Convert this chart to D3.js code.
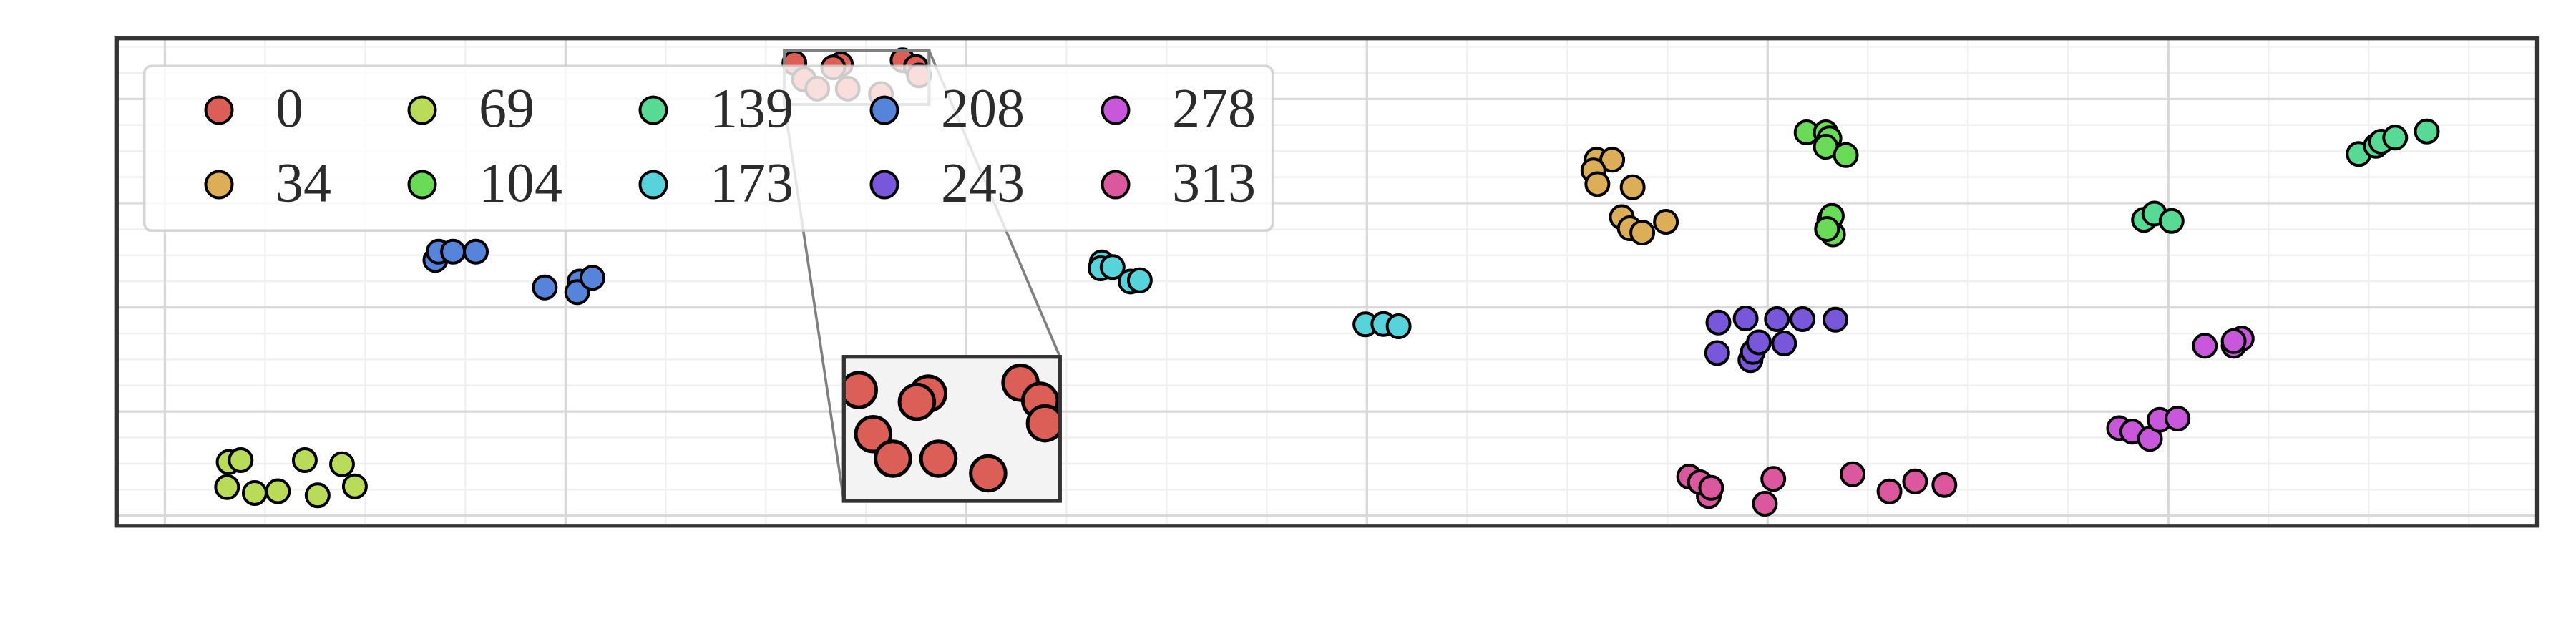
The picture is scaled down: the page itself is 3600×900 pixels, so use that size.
<!DOCTYPE html>
<html>
<head>
<meta charset="utf-8">
<script src="https://cdn.jsdelivr.net/npm/d3@7"></script>
<style>
  html, body { margin: 0; padding: 0; background: #ffffff; }
  svg { display: block; }
</style>
</head>
<body>
<div id="chart"></div>
<script>
// ---------------- DATA ----------------
const categories = ["0", "34", "69", "104", "139", "173", "208", "243", "278", "313"];
const colors = ["#db5f57", "#dbae57", "#b9db57", "#69db57", "#57db94", "#57d3db", "#5784db", "#7957db", "#c957db", "#db579e"];

const pts0 = [[1.572,4.343],[1.688,4.330],[1.669,4.300],[1.596,4.184],[1.629,4.096],[1.705,4.096],[1.788,4.043],[1.842,4.369],[1.875,4.304],[1.883,4.223]];
const pts34 = [[3.574,3.413],[3.613,3.413],[3.566,3.310],[3.576,3.179],[3.664,3.149],[3.637,2.863],[3.657,2.755],[3.688,2.714],[3.747,2.817]];
const pts69 = [[0.160,0.511],[0.190,0.530],[0.350,0.530],[0.443,0.491],[0.156,0.271],[0.225,0.215],[0.283,0.231],[0.382,0.192],[0.475,0.278]];
const pts104 = [[4.098,3.676],[4.146,3.676],[4.155,3.619],[4.146,3.538],[4.196,3.458],[4.164,2.697],[4.155,2.838],[4.161,2.874],[4.149,2.749]];
const pts139 = [[4.940,2.837],[4.966,2.896],[5.009,2.826],[5.476,3.468],[5.519,3.547],[5.532,3.587],[5.567,3.626],[5.646,3.685]];
const pts173 = [[2.339,2.428],[2.336,2.371],[2.366,2.383],[2.411,2.245],[2.434,2.256],[2.997,1.833],[3.042,1.837],[3.080,1.815]];
const pts208 = [[0.676,2.451],[0.684,2.531],[0.720,2.531],[0.777,2.531],[0.949,2.188],[1.036,2.245],[1.030,2.142],[1.068,2.280]];
const pts243 = [[3.878,1.851],[3.946,1.890],[4.024,1.883],[4.088,1.883],[4.170,1.878],[3.875,1.558],[3.958,1.490],[3.964,1.569],[3.979,1.661],[4.042,1.650]];
const pts278 = [[5.092,1.627],[5.164,1.627],[5.184,1.696],[5.164,1.672],[4.878,0.837],[4.911,0.803],[4.955,0.734],[4.979,0.917],[5.024,0.929]];
const pts313 = [[3.805,0.372],[3.854,0.185],[3.832,0.317],[3.860,0.264],[4.015,0.350],[3.994,0.111],[4.213,0.395],[4.305,0.230],[4.369,0.326],[4.442,0.292]];

const seriesPoints = [pts0, pts34, pts69, pts104, pts139, pts173, pts208, pts243, pts278, pts313];

// axis limits and tick values (no labels are shown)
const xDomain = [-0.119, 5.921];
const yDomain = [-0.100, 4.578];
const xMajorTicks = [0, 1, 2, 3, 4, 5];
const yMajorTicks = [0, 1, 2, 3, 4];
const xMinorTicks = [-0.25,0.25,0.5,0.75,1.25,1.5,1.75,2.25,2.5,2.75,3.25,3.5,3.75,4.25,4.5,4.75,5.25,5.5,5.75];
const yMinorTicks = [0.25,0.5,0.75,1.25,1.5,1.75,2.25,2.5,2.75,3.25,3.5,3.75,4.25,4.5];

// zoomed region shown in the inset
const insetXDomain = [1.547, 1.908];
const insetYDomain = [3.944, 4.462];

// ---------------- LAYOUT ----------------
const W = 3600, H = 900;
const plot = { left: 163.3, right: 3545.5, top: 53.7, bottom: 734.8 };
const insetBox = { left: 1179.3, right: 1481.3, top: 498.7, bottom: 700 };

const svg = d3.select("#chart").append("svg")
  .attr("width", W).attr("height", H)
  .attr("viewBox", `0 0 ${W} ${H}`);

svg.append("rect").attr("width", W).attr("height", H).attr("fill", "#ffffff");

const x = d3.scaleLinear().domain(xDomain).range([plot.left, plot.right]);
const y = d3.scaleLinear().domain(yDomain).range([plot.bottom, plot.top]);

const defs = svg.append("defs");
defs.append("clipPath").attr("id", "plotClip").append("rect")
  .attr("x", plot.left).attr("y", plot.top)
  .attr("width", plot.right - plot.left).attr("height", plot.bottom - plot.top);
defs.append("clipPath").attr("id", "insetClip").append("rect")
  .attr("x", insetBox.left).attr("y", insetBox.top)
  .attr("width", insetBox.right - insetBox.left).attr("height", insetBox.bottom - insetBox.top);

const pw = plot.right - plot.left, ph = plot.bottom - plot.top;

// ---------------- GRID ----------------
function grid(g, axis, color, width) {
  g.call(axis);
  g.select(".domain").remove();
  g.selectAll(".tick line").attr("stroke", color).attr("stroke-width", width);
  g.selectAll(".tick text").remove();
}
const gridG = svg.append("g").attr("clip-path", "url(#plotClip)");
gridG.append("g").attr("transform", `translate(0,${plot.bottom})`)
  .call(g => grid(g, d3.axisBottom(x).tickValues(xMinorTicks).tickSize(-ph).tickFormat(""), "#f0f0f0", 2.4));
gridG.append("g").attr("transform", `translate(${plot.left},0)`)
  .call(g => grid(g, d3.axisLeft(y).tickValues(yMinorTicks).tickSize(-pw).tickFormat(""), "#f0f0f0", 2.4));
gridG.append("g").attr("transform", `translate(0,${plot.bottom})`)
  .call(g => grid(g, d3.axisBottom(x).tickValues(xMajorTicks).tickSize(-ph).tickFormat(""), "#d9d9d9", 3.3));
gridG.append("g").attr("transform", `translate(${plot.left},0)`)
  .call(g => grid(g, d3.axisLeft(y).tickValues(yMajorTicks).tickSize(-pw).tickFormat(""), "#d9d9d9", 3.3));

// ---------------- SCATTER ----------------
const scatterG = svg.append("g").attr("clip-path", "url(#plotClip)");
seriesPoints.forEach((pts, i) => {
  scatterG.append("g").selectAll("circle").data(pts).join("circle")
    .attr("cx", d => x(d[0])).attr("cy", d => y(d[1]))
    .attr("r", 16)
    .attr("fill", colors[i]).attr("stroke", "#000000").attr("stroke-width", 4);
});

// frame
svg.append("rect")
  .attr("x", plot.left).attr("y", plot.top).attr("width", pw).attr("height", ph)
  .attr("fill", "none").attr("stroke", "#333333").attr("stroke-width", 5.3);

// ---------------- INSET INDICATOR ----------------
const ind = svg.append("g");
ind.append("rect")
  .attr("x", x(insetXDomain[0])).attr("y", y(insetYDomain[1]))
  .attr("width", x(insetXDomain[1]) - x(insetXDomain[0]))
  .attr("height", y(insetYDomain[0]) - y(insetYDomain[1]))
  .attr("fill", "none").attr("stroke", "#808080").attr("stroke-width", 4.2);
ind.append("line")
  .attr("x1", x(insetXDomain[0])).attr("y1", y(insetYDomain[0]))
  .attr("x2", insetBox.left).attr("y2", insetBox.bottom)
  .attr("stroke", "#808080").attr("stroke-width", 3.6);
ind.append("line")
  .attr("x1", x(insetXDomain[1])).attr("y1", y(insetYDomain[1]))
  .attr("x2", insetBox.right).attr("y2", insetBox.top)
  .attr("stroke", "#808080").attr("stroke-width", 3.6);

// ---------------- LEGEND ----------------
const legend = svg.append("g");
const legendBox = { x: 201.7, y: 92.3, w: 1577, h: 230 };
legend.append("rect")
  .attr("x", legendBox.x).attr("y", legendBox.y)
  .attr("width", legendBox.w).attr("height", legendBox.h)
  .attr("rx", 10).attr("ry", 10)
  .attr("fill", "#ffffff").attr("fill-opacity", 0.8)
  .attr("stroke", "#cccccc").attr("stroke-opacity", 0.8).attr("stroke-width", 3.6);

const fontSize = 78;
const nRows = 2;
const rowY = [154, 258];
const markerToText = 79;
const colGap = 127;
// measure label widths
const measure = svg.append("text").attr("font-family", "'Liberation Serif', 'Times New Roman', serif")
  .attr("font-size", fontSize).attr("visibility", "hidden");
function textWidth(s) { measure.text(s); return measure.node().getComputedTextLength(); }
const nCols = Math.ceil(categories.length / nRows);
let markerX = 306;
for (let c = 0; c < nCols; c++) {
  let maxW = 0;
  for (let r = 0; r < nRows; r++) {
    const idx = c * nRows + r;
    if (idx >= categories.length) continue;
    const tx = markerX + markerToText;
    legend.append("circle")
      .attr("cx", markerX).attr("cy", rowY[r]).attr("r", 18.5)
      .attr("fill", colors[idx]).attr("stroke", "#000000").attr("stroke-width", 4);
    legend.append("text")
      .attr("x", tx).attr("y", rowY[r] + 23)
      .attr("font-family", "'Liberation Serif', 'Times New Roman', serif")
      .attr("font-size", fontSize).attr("fill", "#2b2b2b")
      .text(categories[idx]);
    maxW = Math.max(maxW, textWidth(categories[idx]));
  }
  markerX = markerX + markerToText + maxW + colGap;
}
measure.remove();

// ---------------- INSET AXES ----------------
const xi = d3.scaleLinear().domain(insetXDomain).range([insetBox.left, insetBox.right]);
const yi = d3.scaleLinear().domain(insetYDomain).range([insetBox.bottom, insetBox.top]);
const inset = svg.append("g");
inset.append("rect")
  .attr("x", insetBox.left).attr("y", insetBox.top)
  .attr("width", insetBox.right - insetBox.left).attr("height", insetBox.bottom - insetBox.top)
  .attr("fill", "#f3f3f3");
const insetPts = inset.append("g").attr("clip-path", "url(#insetClip)");
seriesPoints.forEach((pts, i) => {
  insetPts.append("g").selectAll("circle").data(pts).join("circle")
    .attr("cx", d => xi(d[0])).attr("cy", d => yi(d[1]))
    .attr("r", 24.3)
    .attr("fill", colors[i]).attr("stroke", "#000000").attr("stroke-width", 5);
});
inset.append("rect")
  .attr("x", insetBox.left).attr("y", insetBox.top)
  .attr("width", insetBox.right - insetBox.left).attr("height", insetBox.bottom - insetBox.top)
  .attr("fill", "none").attr("stroke", "#333333").attr("stroke-width", 5.3);
</script>
</body>
</html>
